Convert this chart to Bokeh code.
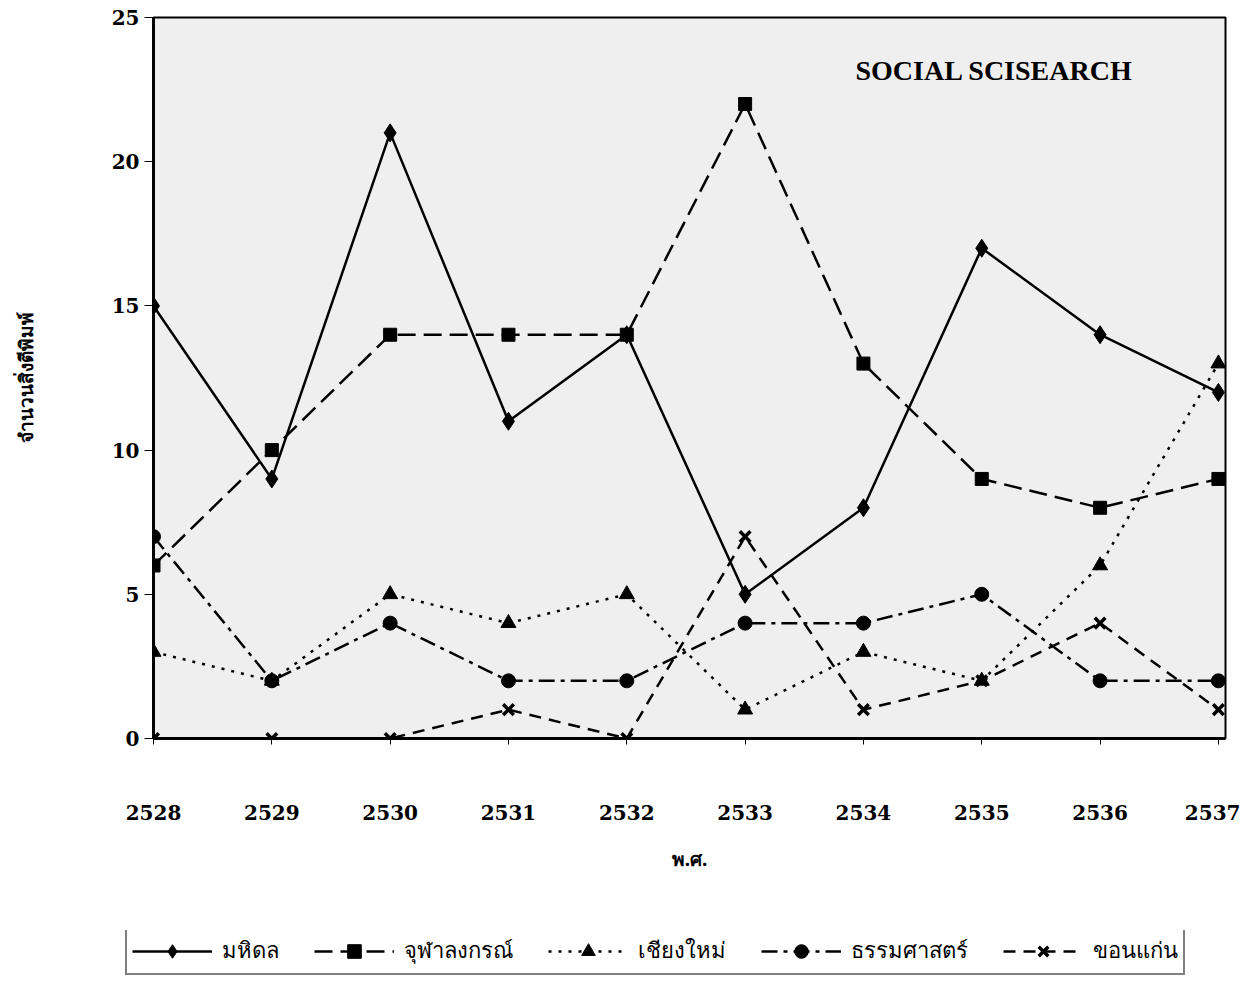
from bokeh.plotting import figure
from bokeh.layouts import column
from bokeh.models import Legend, LegendItem, Label, FixedTicker, Range1d
from bokeh.embed import file_html
from bokeh.resources import INLINE

years = [2528, 2529, 2530, 2531, 2532, 2533, 2534, 2535, 2536, 2537]
mahidol = [15, 9, 21, 11, 14, 5, 8, 17, 14, 12]
chula = [6, 10, 14, 14, 14, 22, 13, 9, 8, 9]
chiangmai = [3, 2, 5, 4, 5, 1, 3, 2, 6, 13]
thammasat = [7, 2, 4, 2, 2, 4, 4, 5, 2, 2]
khonkaen = [0, 0, 0, 1, 0, 7, 1, 2, 4, 1]
series_names = ["มหิดล", "จุฬาลงกรณ์", "เชียงใหม่", "ธรรมศาสตร์", "ขอนแก่น"]
y_ticks = [0, 5, 10, 15, 20, 25]
title_text = "SOCIAL SCISEARCH"
x_title = "พ.ศ."
y_title = "จำนวนสิ่งตีพิมพ์"

series = [mahidol, chula, chiangmai, thammasat, khonkaen]
dashes = ["solid", "18 8", "3 7", "16 6 4 6", "12 8"]
markers = ["diamond", "square", "triangle", "circle", "x"]
msizes = [18, 13, 15, 14, 15]

p = figure(width=1240, height=930, output_backend="svg", toolbar_location=None,
           x_range=Range1d(2528, 2537.06), y_range=Range1d(0, 25),
           min_border_left=153, min_border_right=15, min_border_top=17,
           min_border_bottom=192)
p.frame_align = False
p.background_fill_color = "#efefef"
p.border_fill_color = "white"
p.outline_line_color = "black"
p.outline_line_width = 2
p.grid.visible = False

serif = "DejaVu Serif"
p.xaxis.ticker = FixedTicker(ticks=years)
p.yaxis.ticker = FixedTicker(ticks=y_ticks)
for ax in (p.xaxis[0], p.yaxis[0]):
    ax.axis_line_width = 3
    ax.axis_line_color = "black"
    ax.major_tick_in = 0
    ax.minor_tick_line_color = None
    ax.major_label_text_font = serif
    ax.major_label_text_font_style = "bold"
    ax.major_label_text_font_size = "20px"
    ax.major_label_text_color = "black"
    ax.axis_label_text_font = "Noto Sans"
    ax.axis_label_text_font_style = "bold"
    ax.axis_label_text_font_size = "19px"
    ax.axis_label_text_color = "black"
p.xaxis.major_tick_out = 6
p.yaxis.major_tick_out = 9
p.xaxis.major_label_standoff = 60
p.xaxis.axis_label = x_title
p.xaxis.axis_label_standoff = 23
p.yaxis.major_label_standoff = 5
p.yaxis.axis_label = y_title
p.yaxis.axis_label_standoff = 70

p.add_layout(Label(x=702, y=668, x_units="screen", y_units="screen",
                   text=title_text, text_font="Liberation Serif",
                   text_font_style="bold", text_font_size="28px",
                   text_color="black", text_baseline="middle"))


def draw(fig, k):
    ln = fig.line(years, series[k], line_color="black", line_width=2.5,
                  line_dash=dashes[k])
    if markers[k] == "x":
        mk = fig.scatter(years, series[k], marker="x", size=msizes[k],
                         line_color="black", line_width=3.5)
    else:
        mk = fig.scatter(years, series[k], marker=markers[k], size=msizes[k],
                         color="black")
    return ln, mk


for k in range(5):
    draw(p, k)

# legend strip: a second figure whose own copies of the series lie outside its
# ranges, so only the legend box is visible
q = figure(width=1240, height=46, output_backend="svg", toolbar_location=None,
           x_range=Range1d(0, 1), y_range=Range1d(0, 1), min_border=0,
           x_axis_location=None, y_axis_location=None)
q.frame_align = False
q.outline_line_color = None
q.grid.visible = False
q.background_fill_color = "white"
items = []
for k in range(5):
    ln, mk = draw(q, k)
    items.append(LegendItem(label=series_names[k], renderers=[ln, mk]))
legend = Legend(items=items, orientation="horizontal", location=(125, 1),
                glyph_width=80, glyph_height=34, label_height=34,
                label_standoff=10, spacing=35, padding=5, margin=0,
                label_text_font="Noto Sans", label_text_font_size="22px",
                label_text_color="black",
                border_line_color="black", border_line_width=2.5,
                background_fill_color="white", background_fill_alpha=1)
q.add_layout(legend, "center")

open("out.html", "w").write(file_html(column(p, q, spacing=0), INLINE))
